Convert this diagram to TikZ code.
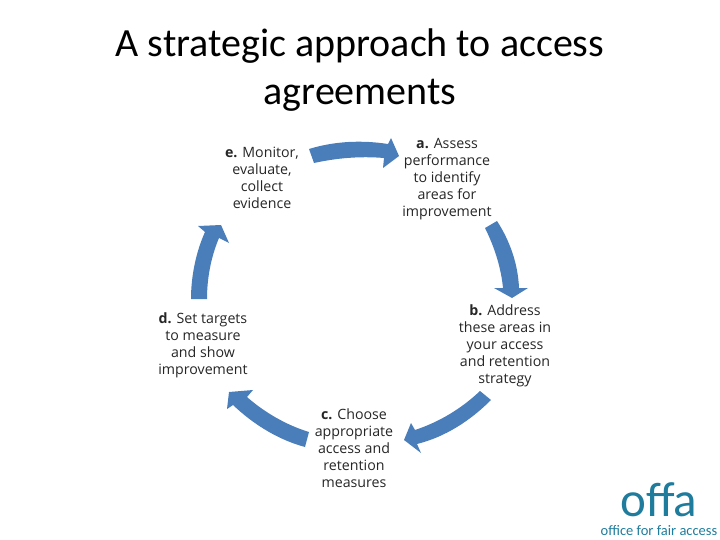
\documentclass[tikz,border=0pt]{standalone}
\usepackage{fontspec}
\setmainfont{Carlito}
\newfontfamily\stepfont{Open Sans}
\definecolor{arrowblue}{HTML}{4A7EBB}
\definecolor{offateal}{HTML}{1F7C9C}
\tikzset{
  stagetext/.style={align=center, text=black!85, font=\stepfont\fontsize{14.2}{17}\selectfont},
  cyclearrow/.style={fill=arrowblue, draw=none},
  logotype/.style={text=offateal, inner sep=0pt, anchor=base},
}

\begin{document}
\begin{tikzpicture}[x=1pt, y=-1pt]

\useasboundingbox (0,0) rectangle (720,540);

% Title
\node[align=center, font=\fontsize{40}{48}\selectfont] (title) at (360,70.5) {A strategic approach to access\\agreements};

% Stages
\node[stagetext] (stageA) at (447,179) {\textbf{a.} Assess\\performance\\to identify\\areas for\\improvement};
\node[stagetext] (stageB) at (505,345.5) {\textbf{b.} Address\\these areas in\\your access\\and retention\\strategy};
\node[stagetext] (stageC) at (354,448) {\textbf{c.} Choose\\appropriate\\access and\\retention\\measures};
\node[stagetext] (stageD) at (203,345.5) {\textbf{d.} Set targets\\to measure\\and show\\improvement};
\node[stagetext] (stageE) at (262,177.5) {\textbf{e.} Monitor,\\evaluate,\\collect\\evidence};

% Arrow e to a
\fill[cyclearrow] (309,149) .. controls (335,141) and (362,140) .. (388,144)
  -- (391,138) -- (399,156) -- (383,168) -- (384,158)
  .. controls (360,156) and (337,158) .. (314,163) -- cycle;

% Arrow a to b
\fill[cyclearrow] (497,221) .. controls (510,241) and (518,264) .. (519,288)
  -- (528,288) -- (512,298) -- (494,288) -- (503,288)
  .. controls (501,267) and (494,246) .. (485,228) -- cycle;

% Arrow b to c
\fill[cyclearrow] (491,400) .. controls (470,421) and (445,437) .. (417,444)
  -- (421,453) -- (404,440) -- (411,423) -- (415,430)
  .. controls (439,422) and (461,409) .. (480,391) -- cycle;

% Arrow c to d
\fill[cyclearrow] (305,447) .. controls (279,440) and (254,425) .. (233,405)
  -- (227,409) -- (229,392) -- (253,390) -- (247,397)
  .. controls (264,412) and (286,425) .. (309,432) -- cycle;

% Arrow d to e
\fill[cyclearrow] (191,299) .. controls (191,276) and (196,252) .. (205,232)
  -- (198,226) -- (221,225) -- (229,243) -- (219,238)
  .. controls (211,257) and (207,278) .. (207,299) -- cycle;

% Logo
\node[logotype, font=\fontsize{49}{49}\selectfont] (logo) at (659,516) {offa};
\node[logotype, font=\fontsize{14.5}{16}\selectfont] (logotext) at (659,535) {office for fair access};

\end{tikzpicture}
\end{document}
